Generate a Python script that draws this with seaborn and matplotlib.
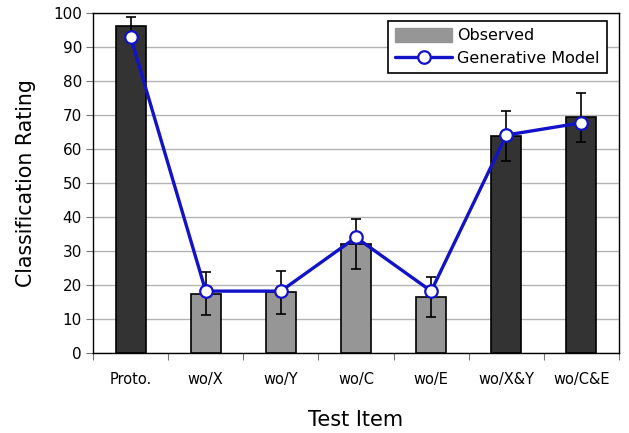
import matplotlib
matplotlib.use("Agg")
import matplotlib.pyplot as plt
import seaborn as sns
from matplotlib.patches import Patch
from matplotlib.lines import Line2D

categories = ["Proto.", "wo/X", "wo/Y", "wo/C", "wo/E", "wo/X&Y", "wo/C&E"]
observed = [96.2, 17.5, 17.8, 32.1, 16.6, 63.8, 69.3]
errors = [2.7, 6.2, 6.4, 7.3, 5.9, 7.4, 7.1]
model = [93.0, 18.2, 18.2, 34.0, 18.2, 64.1, 67.7]
bar_colors = ["#333333", "#969696", "#969696", "#969696", "#969696", "#333333", "#333333"]

sns.set_style("white")
plt.rcParams['font.family'] = ['DejaVu Sans']
plt.rcParams['text.color'] = 'black'
plt.rcParams['axes.labelcolor'] = 'black'
plt.rcParams['xtick.color'] = 'black'
plt.rcParams['ytick.color'] = 'black'

fig = plt.figure(figsize=(6.29, 4.33), dpi=100)
ax = fig.add_axes([93/629, 80/433, (619-93)/629, (353-13)/433])

sns.barplot(x=categories, y=observed, hue=categories, palette=bar_colors,
            legend=False, width=0.4, edgecolor="black", linewidth=1.2,
            ax=ax, zorder=2)
ax.errorbar(categories, observed, yerr=errors, fmt="none", ecolor="black",
            elinewidth=1.2, capsize=3.6, capthick=1.2, zorder=3)
ax.plot(categories, model, color="#1212C8", linewidth=2.4, marker="o",
        markersize=9, markerfacecolor="white", markeredgecolor="#1212C8",
        markeredgewidth=1.6, zorder=4)

ax.set_xlim(-0.5, 6.5)
ax.set_ylim(0, 100)
ax.set_yticks(range(0, 101, 10))
ax.yaxis.grid(True, color="#b4b4b4", linewidth=1.0, zorder=0)
ax.set_axisbelow(True)
for s in ax.spines.values():
    s.set_color("black")
    s.set_linewidth(1.0)
ax.tick_params(axis="y", which="major", left=True, length=5, width=0.8,
               color="#777777", labelcolor="black", labelsize=11, pad=3)
ax.tick_params(axis="x", which="major", length=0, labelcolor="black",
               labelsize=10.5, pad=14)
ax.set_xticks([i - 0.5 for i in range(8)], minor=True)
ax.tick_params(axis="x", which="minor", bottom=True, length=5, width=0.8,
               color="#777777")
ax.set_xlabel("Test Item", fontsize=15, labelpad=16, color="black")
ax.set_ylabel("Classification Rating", fontsize=14.8, labelpad=12, color="black")

handles = [
    Patch(facecolor="#969696", edgecolor="#969696", label="Observed"),
    Line2D([0], [0], color="#1212C8", linewidth=2.4, marker="o", markersize=9,
           markerfacecolor="white", markeredgecolor="#1212C8",
           markeredgewidth=1.6, label="Generative Model"),
]
leg = ax.legend(handles=handles, loc="upper right", bbox_to_anchor=(0.977, 0.976),
                fontsize=11.5, frameon=True, fancybox=False, edgecolor="black",
                framealpha=1, borderpad=0.45, labelspacing=0.45,
                handlelength=3.6, handleheight=0.9, handletextpad=0.3,
                borderaxespad=0)
leg.get_frame().set_linewidth(1.2)
for t in leg.get_texts():
    t.set_color("black")

fig.savefig("out.png", dpi=100)
